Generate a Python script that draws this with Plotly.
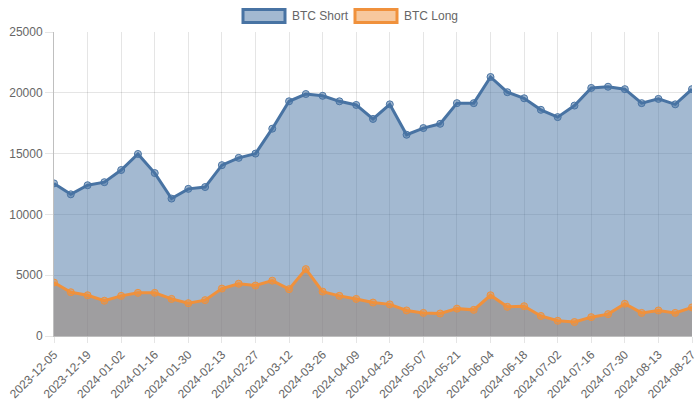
import plotly.graph_objects as go
import pandas as pd

dates = [d.strftime("%Y-%m-%d") for d in pd.date_range("2023-12-05", "2024-08-27", freq="7D")]
btc_short = [12550, 11650, 12400, 12650, 13650, 14970, 13400, 11300, 12100, 12250,
             14050, 14650, 15000, 17050, 19300, 19900, 19750, 19300, 19000, 17850,
             19050, 16550, 17100, 17450, 19150, 19150, 21300, 20050, 19550, 18600,
             18000, 18950, 20400, 20500, 20300, 19150, 19500, 19050, 20300]
btc_long = [4400, 3600, 3350, 2900, 3300, 3550, 3550, 3050, 2700, 2950,
            3900, 4300, 4150, 4550, 3850, 5500, 3650, 3300, 3050, 2750,
            2600, 2100, 1900, 1850, 2250, 2150, 3350, 2400, 2450, 1650,
            1250, 1150, 1550, 1800, 2650, 1900, 2100, 1900, 2350]
tick_labels = dates[::2]
series_names = ["BTC Short", "BTC Long"]

BLUE = "rgb(72,115,163)"
BLUE_F = "rgba(72,115,163,0.5)"
ORANGE = "rgb(240,145,60)"
ORANGE_F = "rgba(240,145,60,0.5)"

W, H = 700, 400
ML, MR, MT, MB = 54, 8, 32, 64
PW, PH = W - ML - MR, H - MT - MB


def px(x):
    return (x - ML) / PW


def py(y):
    return (H - MB - y) / PH


fig = go.Figure()
# fills (orange below blue as in the original draw order)
fig.add_trace(go.Scatter(x=dates, y=btc_long, mode="none", showlegend=False,
                         fill="tozeroy", fillcolor=ORANGE_F, hoverinfo="skip"))
fig.add_trace(go.Scatter(x=dates, y=btc_short, mode="none", showlegend=False,
                         fill="tozeroy", fillcolor=BLUE_F, hoverinfo="skip"))
# lines on top
fig.add_trace(go.Scatter(x=dates, y=btc_long, mode="lines+markers", name=series_names[1],
                         showlegend=False, line=dict(color=ORANGE, width=3),
                         marker=dict(size=7, color=ORANGE_F, line=dict(color=ORANGE, width=1))))
fig.add_trace(go.Scatter(x=dates, y=btc_short, mode="lines+markers", name=series_names[0],
                         showlegend=False, line=dict(color=BLUE, width=3),
                         marker=dict(size=7, color=BLUE_F, line=dict(color=BLUE, width=1))))

font = dict(family="Liberation Sans, Arial, sans-serif", size=12, color="#666")

# manual legend (Chart.js style boxes)
legend_items = [(243, 285, 290, BLUE, BLUE_F, series_names[0]),
                (355, 397, 402, ORANGE, ORANGE_F, series_names[1])]
shapes, annotations = [], []
for x0, x1, tx, lc, fc, name in legend_items:
    shapes.append(dict(type="rect", xref="paper", yref="paper",
                       x0=px(x0), x1=px(x1), y0=py(22.5), y1=py(9.5),
                       line=dict(color=lc, width=3), fillcolor=fc, layer="above"))
    annotations.append(dict(xref="paper", yref="paper", x=px(tx), y=py(16),
                            xanchor="left", yanchor="middle", text=name,
                            showarrow=False, font=font))

fig.update_layout(
    width=W, height=H,
    margin=dict(l=ML, r=MR, t=MT, b=MB, autoexpand=False),
    paper_bgcolor="white", plot_bgcolor="white",
    font=font, showlegend=False,
    shapes=shapes, annotations=annotations,
    xaxis=dict(type="category", range=[0, len(dates) - 1], automargin=False,
               tickmode="array", tickvals=tick_labels, ticktext=tick_labels,
               tickangle=-45, showgrid=True, gridcolor="rgba(0,0,0,0.1)",
               ticks="outside", ticklen=6, tickcolor="rgba(0,0,0,0.1)",
               showline=True, linecolor="rgba(0,0,0,0.25)", zeroline=False),
    yaxis=dict(range=[0, 25000], dtick=5000, tickformat="d", automargin=False,
               showgrid=True, gridcolor="rgba(0,0,0,0.1)",
               ticks="outside", ticklen=8, tickcolor="rgba(0,0,0,0.1)",
               showline=True, linecolor="rgba(0,0,0,0.25)", zeroline=False),
)
fig.write_html("out.html")
